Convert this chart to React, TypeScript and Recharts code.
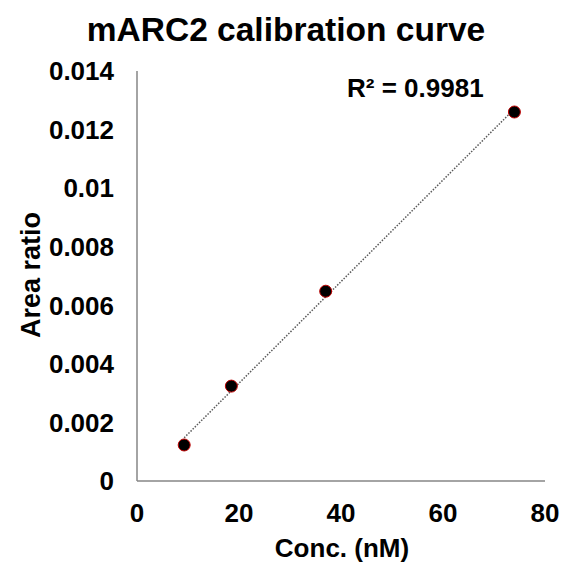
import { Scatter, ScatterChart, XAxis, YAxis } from "recharts";

const concentrations = [9.25, 18.5, 37, 74];
const areaRatios = [0.00123, 0.00324, 0.00648, 0.0126];
const xTicks = [0, 20, 40, 60, 80];
const yTicks = [0, 0.002, 0.004, 0.006, 0.008, 0.01, 0.012, 0.014];
const rSquaredLabel = "R² = 0.9981";

const FONT = "Arial, 'Liberation Sans', sans-serif";

const points = concentrations.map((conc, i) => ({ conc, ratio: areaRatios[i] }));

// least-squares fit for the trendline
function linearFit(xs: number[], ys: number[]) {
  const n = xs.length;
  const mx = xs.reduce((a, b) => a + b, 0) / n;
  const my = ys.reduce((a, b) => a + b, 0) / n;
  let sxy = 0;
  let sxx = 0;
  xs.forEach((x, i) => {
    sxy += (x - mx) * (ys[i] - my);
    sxx += (x - mx) * (x - mx);
  });
  const slope = sxy / sxx;
  return { slope, intercept: my - slope * mx };
}

const fit = linearFit(concentrations, areaRatios);
const xMin = Math.min(...concentrations);
const xMax = Math.max(...concentrations);
const fitLine = [xMin, xMax].map((conc) => ({
  conc,
  ratio: fit.intercept + fit.slope * conc,
}));

function Dot({ cx, cy }: { cx?: number; cy?: number }) {
  if (cx == null || cy == null) return null;
  return <circle cx={cx} cy={cy} r={6} fill="#000" stroke="#c00000" strokeWidth={1} />;
}

const tickStyle = { fill: "#000", fontSize: 26, fontWeight: 700, fontFamily: FONT };

export default function App() {
  return (
    <div
      style={{
        position: "absolute",
        left: 0,
        top: 0,
        width: 565,
        height: 565,
        background: "#fff",
        fontFamily: FONT,
        fontWeight: 700,
        color: "#000",
      }}
    >
      <div
        style={{
          position: "absolute",
          left: 0,
          width: 572,
          top: 10,
          textAlign: "center",
          fontSize: 33.5,
          lineHeight: "40px",
        }}
      >
        mARC2 calibration curve
      </div>
      <ScatterChart
        width={565}
        height={565}
        margin={{ top: 71, right: 20, bottom: 0, left: 0 }}
      >
        <XAxis
          type="number"
          dataKey="conc"
          domain={[0, 80]}
          ticks={xTicks}
          tick={tickStyle}
          tickLine={false}
          tickMargin={17}
          axisLine={{ stroke: "#868686", strokeWidth: 1.5 }}
          height={84}
        />
        <YAxis
          type="number"
          dataKey="ratio"
          domain={[0, 0.014]}
          ticks={yTicks}
          tick={tickStyle}
          tickLine={false}
          tickMargin={17}
          tickFormatter={(v) => String(v)}
          axisLine={{ stroke: "#868686", strokeWidth: 1.5 }}
          width={137}
        />
        <Scatter
          data={fitLine}
          isAnimationActive={false}
          line={{ stroke: "#595959", strokeWidth: 1.5, strokeDasharray: "1.5 1.5" }}
          shape={() => null}
        />
        <Scatter data={points} isAnimationActive={false} shape={<Dot />} />
      </ScatterChart>
      <div
        style={{
          position: "absolute",
          left: 347,
          top: 72,
          fontSize: 26,
          lineHeight: "32px",
          whiteSpace: "nowrap",
        }}
      >
        {rSquaredLabel}
      </div>
      <div
        style={{
          position: "absolute",
          left: 342,
          top: 548,
          transform: "translate(-50%, -50%)",
          fontSize: 26,
          lineHeight: "32px",
          whiteSpace: "nowrap",
        }}
      >
        Conc. (nM)
      </div>
      <div
        style={{
          position: "absolute",
          left: 31,
          top: 275,
          transform: "translate(-50%, -50%) rotate(-90deg)",
          fontSize: 27,
          lineHeight: "32px",
          whiteSpace: "nowrap",
        }}
      >
        Area ratio
      </div>
    </div>
  );
}
